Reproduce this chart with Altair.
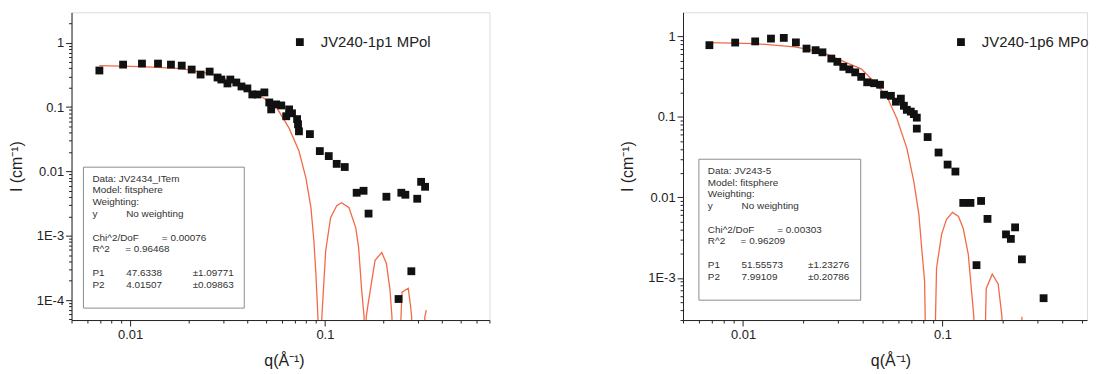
import altair as alt
import pandas as pd

# ---------------- data ----------------
# Left panel : JV240-1p1 MPol
left_q = [0.00695, 0.0092, 0.0115, 0.0139, 0.0162, 0.0184, 0.0207, 0.0230, 0.0256, 0.0281,
          0.0294, 0.0316, 0.0327, 0.0351, 0.0373, 0.0400, 0.0424, 0.0450, 0.0489, 0.0518,
          0.0530, 0.0562, 0.0597, 0.0633, 0.0655, 0.0678, 0.0720, 0.0728, 0.0736, 0.0838,
          0.0942, 0.1047, 0.115, 0.1265, 0.1456, 0.158, 0.1676, 0.207, 0.239, 0.247,
          0.259, 0.278, 0.298, 0.312, 0.327]
left_I = [0.37, 0.457, 0.474, 0.474, 0.457, 0.441, 0.383, 0.32, 0.356, 0.288,
          0.268, 0.233, 0.268, 0.241, 0.209, 0.195, 0.157, 0.157, 0.169, 0.118,
          0.092, 0.110, 0.106, 0.072, 0.092, 0.080, 0.065, 0.054, 0.042, 0.038,
          0.0207, 0.0173, 0.0131, 0.0117, 0.00466, 0.0050, 0.00221, 0.00404, 0.000104, 0.00466,
          0.00434, 0.000281, 0.00376, 0.00689, 0.00577]
left_fit_q = [0.00695, 0.0115, 0.0184, 0.0256, 0.0316, 0.040, 0.0489, 0.0568, 0.0655, 0.0736,
              0.0799, 0.0848, 0.0878, 0.0899, 0.0921, 0.0943, 0.0965, 0.101, 0.107, 0.115,
              0.122, 0.133, 0.144, 0.149, 0.1545, 0.159, 0.1605, 0.163, 0.167, 0.181,
              0.196, 0.207, 0.216, 0.221, 0.233, 0.246, 0.249, 0.268, 0.275, 0.279,
              0.29, 0.323, 0.326, 0.332]
left_fit_I = [0.441, 0.426, 0.397, 0.332, 0.268, 0.188, 0.136, 0.0957, 0.047, 0.0207,
              0.00794, 0.00273, 0.000845, 0.000261, 5.5e-5, 1e-7, 5.5e-5, 5.9e-4, 1.91e-3, 2.93e-3,
              3.26e-3, 2.73e-3, 1.34e-3, 6.6e-4, 1.43e-4, 5.5e-5, 1e-7, 5.5e-5, 9.0e-5, 4.15e-4,
              5.5e-4, 3.7e-4, 1.43e-4, 5.5e-5, 1e-7, 5.5e-5, 1.33e-4, 1.53e-4, 8.4e-5, 5.5e-5,
              1e-7, 1e-7, 5.5e-5, 7e-5]

# Right panel : JV240-1p6 MPol
right_q = [0.00678, 0.00913, 0.0115, 0.0138, 0.0160, 0.0184, 0.0208, 0.0231, 0.0250, 0.0277,
           0.0297, 0.0318, 0.0341, 0.0365, 0.0391, 0.0419, 0.0454, 0.0486, 0.0509, 0.0551,
           0.0584, 0.0618, 0.0640, 0.0662, 0.0693, 0.0718, 0.0743, 0.0743, 0.0842, 0.0955,
           0.106, 0.116, 0.127, 0.138, 0.148, 0.156, 0.168, 0.208, 0.220, 0.231,
           0.250, 0.321]
right_I = [0.774, 0.834, 0.862, 0.934, 0.953, 0.838, 0.702, 0.671, 0.631, 0.528,
           0.481, 0.417, 0.388, 0.356, 0.313, 0.268, 0.261, 0.250, 0.188, 0.182,
           0.154, 0.168, 0.137, 0.122, 0.116, 0.108, 0.0975, 0.0713, 0.056, 0.036,
           0.0255, 0.0209, 0.00853, 0.00853, 0.00144, 0.00902, 0.0054, 0.00347, 0.00305, 0.00424,
           0.0017, 0.00056]
right_fit_q = [0.00685, 0.0115, 0.0181, 0.0247, 0.0297, 0.0391, 0.0454, 0.0527, 0.0591, 0.0663,
               0.0718, 0.0761, 0.0786, 0.0813, 0.0862, 0.0933, 0.0989, 0.1047, 0.1122, 0.1202,
               0.127, 0.1346, 0.1394, 0.1435, 0.1528, 0.1656, 0.1775, 0.190, 0.1985, 0.2033,
               0.244, 0.250]
right_fit_I = [0.834, 0.81, 0.737, 0.64, 0.524, 0.394, 0.272, 0.177, 0.0946, 0.0403,
               0.0157, 0.00614, 0.00233, 9.1e-4, 1e-7, 1.32e-3, 3.47e-3, 5.33e-3, 6.5e-3, 5.8e-3,
               4.1e-3, 1.96e-3, 7.4e-4, 3.3e-4, 1e-7, 7.4e-4, 1.11e-3, 8.4e-4, 3.3e-4, 1e-7,
               1e-7, 3.3e-4]

left_name = "JV240-1p1 MPol"
right_name = "JV240-1p6 MPol"

left_info = ["Data: JV2434_ITem", "Model: fitsphere", "Weighting:", "y", "No weighting",
             "Chi^2/DoF", "= 0.00076", "R^2", "=  0.96468",
             "P1", "47.6338", "±1.09771", "P2", "4.01507", "±0.09863"]
right_info = ["Data: JV243-5", "Model: fitsphere", "Weighting:", "y", "No weighting",
              "Chi^2/DoF", "= 0.00303", "R^2", "=  0.96209",
              "P1", "51.55573", "±1.23276", "P2", "7.99109", "±0.20786"]

x_tick_values = [0.01, 0.1]
x_tick_labels = ["0.01", "0.1"]
left_y_tick_values = [1e-4, 1e-3, 0.01, 0.1, 1]
left_y_tick_labels = ["1E-4", "1E-3", "0.01", "0.1", "1"]
right_y_tick_values = [1e-3, 0.01, 0.1, 1]
right_y_tick_labels = ["1E-3", "0.01", "0.1", "1"]

# ---------------- styling / layout ----------------
FONT = "Liberation Sans"
FIT_COLOR = "#F26A45"
TEXT = "#222222"
INFO_ROWS = [11.5, 23.5, 35, 47.5, 71, 82.5, 107, 118.5]
INFO_CELLS = [(0, 9), (1, 9), (2, 9), (3, 9), (3, 43), (4, 9), (4, 79), (5, 9), (5, 42),
              (6, 9), (6, 43), (6, 110), (7, 9), (7, 43), (7, 110)]
MAJOR = "abs(log(datum.value)/LN10 - round(log(datum.value)/LN10)) < 1e-6"


def label_expr(values, labels):
    return "".join(f"abs(datum.value/{v} - 1) < 1e-6 ? '{l}' : " for v, l in zip(values, labels)) + "''"


def axis(values, labels, title, title_padding, label_padding, **extra):
    return alt.Axis(
        title=title, labelExpr=label_expr(values, labels), labelOverlap=False, labelFlush=False,
        grid=False, domainColor=TEXT, tickColor=TEXT, labelColor=TEXT, titleColor=TEXT,
        labelFont=FONT, titleFont=FONT, labelFontSize=13, titleFontSize=16,
        titleFontWeight="normal", titlePadding=title_padding, labelPadding=label_padding,
        tickSize={"condition": {"test": MAJOR, "value": 6}, "value": 3},
        **extra,
    )


def panel(q, I, fq, fI, xdom, ydom, yvals, ylabels, name, legend_x, box, info, width,
          title_x, text_limit=None):
    xs = alt.Scale(type="log", domain=xdom, nice=False)
    ys = alt.Scale(type="log", domain=ydom, nice=False)
    xa = axis(x_tick_values, x_tick_labels, "q(Å⁻¹)", 11, 3, titleX=title_x)
    ya = axis(yvals, ylabels, "I (cm⁻¹)", 12, 2)

    pts = alt.Chart(pd.DataFrame({"q": q, "I": I})).mark_square(
        size=62, color="#111111", opacity=1
    ).encode(x=alt.X("q:Q", scale=xs, axis=xa), y=alt.Y("I:Q", scale=ys, axis=ya))
    fit = alt.Chart(pd.DataFrame({"q": fq, "I": fI})).mark_line(
        clip=True, color=FIT_COLOR, strokeWidth=1.3
    ).encode(x=alt.X("q:Q", scale=xs, axis=xa), y=alt.Y("I:Q", scale=ys, axis=ya))

    one = alt.Data(values=[{}])
    leg_sq = alt.Chart(one).mark_square(size=62, color="#111111", opacity=1).encode(
        x=alt.value(legend_x), y=alt.value(30))
    text_opts = dict(text=name, align="left", baseline="middle", font=FONT, fontSize=15,
                     color=TEXT)
    if text_limit is not None:
        text_opts.update(limit=text_limit, ellipsis="\u200a")
    leg_tx = alt.Chart(one).mark_text(**text_opts).encode(
        x=alt.value(legend_x + 21), y=alt.value(30))

    bx0, by0, bx1, by1 = box
    rect = alt.Chart(one).mark_rect(fill="white", stroke="#8c8c8c", strokeWidth=1).encode(
        x=alt.value(bx0), x2=alt.value(bx1), y=alt.value(by0), y2=alt.value(by1))
    texts = []
    for txt, (row, dx) in zip(info, INFO_CELLS):
        texts.append(alt.Chart(one).mark_text(
            text=txt, align="left", baseline="middle", font=FONT, fontSize=10, color="#333333"
        ).encode(x=alt.value(bx0 + dx), y=alt.value(by0 + INFO_ROWS[row])))

    return alt.layer(fit, pts, leg_sq, leg_tx, rect, *texts).properties(width=width, height=310)


left = panel(left_q, left_I, left_fit_q, left_fit_I, [0.005, 0.7], [4.9e-5, 2.97],
             left_y_tick_values, left_y_tick_labels, left_name, 230, (12, 156, 174, 298),
             left_info, 421, 214)
right = panel(right_q, right_I, right_fit_q, right_fit_I, [0.005, 0.53], [3.0e-4, 1.98],
              right_y_tick_values, right_y_tick_labels, right_name, 280, (16, 148, 179, 290),
              right_info, 407, 209, text_limit=110)

chart = alt.hconcat(left, right, spacing=195, bounds="flush").properties(
    padding={"left": 0, "top": 2, "right": 0, "bottom": 0}
).configure_view(strokeWidth=0).configure(font=FONT, background="white")

chart.save("out.html", embed_options={"renderer": "svg", "actions": False})
